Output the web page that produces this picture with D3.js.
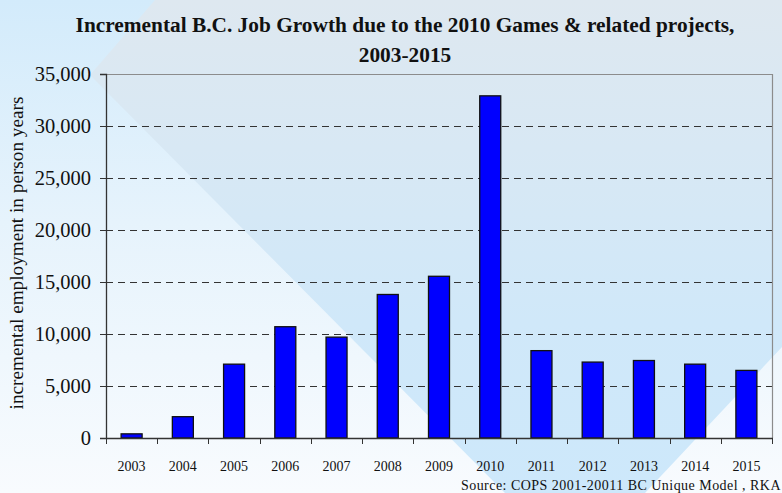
<!DOCTYPE html>
<html>
<head>
<meta charset="utf-8">
<script src="https://cdn.jsdelivr.net/npm/d3@7"></script>
<style>
  html, body { margin: 0; padding: 0; background: #ffffff; }
  svg { display: block; }
  text { font-family: "Liberation Serif", "DejaVu Serif", serif; fill: #111; }
</style>
</head>
<body>
<svg id="chart" width="782" height="493"></svg>
<script>
// Incremental job growth by year (person years)
const years = ["2003","2004","2005","2006","2007","2008","2009","2010","2011","2012","2013","2014","2015"];
const jobs  = [400, 2050, 7100, 10700, 9700, 13800, 15550, 32900, 8400, 7300, 7450, 7100, 6500];
const yTicks = [0, 5000, 10000, 15000, 20000, 25000, 30000, 35000];
const titleLines = ["Incremental B.C. Job Growth due to the 2010 Games & related projects,", "2003-2015"];
const yTitle = "incremental employment in person years";
const sourceNote = "Source: COPS 2001-20011 BC Unique Model , RKA";

const W = 782, H = 493;
const m = { left: 106, right: 772, top: 74, bottom: 438 };

const svg = d3.select("#chart");
const defs = svg.append("defs");

// Backdrop gradients
const gBase = defs.append("linearGradient").attr("id", "bgBase")
  .attr("x1", 0).attr("y1", 0).attr("x2", 0).attr("y2", 1);
gBase.append("stop").attr("offset", "0%").attr("stop-color", "#d3ebfb");
gBase.append("stop").attr("offset", "45%").attr("stop-color", "#e6f3fc");
gBase.append("stop").attr("offset", "100%").attr("stop-color", "#f8fbfe");

const gBand = defs.append("linearGradient").attr("id", "bgBand")
  .attr("gradientUnits", "userSpaceOnUse")
  .attr("x1", 0).attr("y1", 0).attr("x2", 0).attr("y2", H);
gBand.append("stop").attr("offset", "0%").attr("stop-color", "#dee8f0");
gBand.append("stop").attr("offset", "30%").attr("stop-color", "#d8e8f4");
gBand.append("stop").attr("offset", "65%").attr("stop-color", "#d0e8f9");
gBand.append("stop").attr("offset", "100%").attr("stop-color", "#cde8fb");

svg.append("rect").attr("width", W).attr("height", H).attr("fill", "url(#bgBase)");
svg.append("path")
  .attr("d", d3.line()([[155, 0], [W, 0], [W, 347], [645, H], [505, H], [90, 75]]) + "Z")
  .attr("fill", "url(#bgBand)");

// Scales
const x = d3.scaleBand().domain(years).range([m.left, m.right])
  .paddingInner(0.59).paddingOuter(0.295);
const y = d3.scaleLinear().domain([0, 35000]).range([m.bottom, m.top]);

// Dashed gridlines
svg.append("g").selectAll("line")
  .data(yTicks.filter(d => d > 0 && d < 35000))
  .join("line")
  .attr("x1", m.left).attr("x2", m.right)
  .attr("y1", d => Math.round(y(d)) + 0.5).attr("y2", d => Math.round(y(d)) + 0.5)
  .attr("stroke", "#333").attr("stroke-width", 1)
  .attr("stroke-dasharray", "7,5");

// Plot frame (top and right)
svg.append("path")
  .attr("d", `M${m.left},${m.top + 0.5}H${m.right + 0.5}V${m.bottom}`)
  .attr("fill", "none").attr("stroke", "#8c8c8c").attr("stroke-width", 1.2);

// Bars
svg.append("g").selectAll("rect")
  .data(years.map((yr, i) => ({ yr, v: jobs[i] })))
  .join("rect")
  .attr("x", d => x(d.yr))
  .attr("width", x.bandwidth())
  .attr("y", d => y(d.v))
  .attr("height", d => y(0) - y(d.v))
  .attr("fill", "#0000ff")
  .attr("stroke", "#111")
  .attr("stroke-width", 1.3);

// Y axis
const yAxis = d3.axisLeft(y).tickValues(yTicks).tickSize(6).tickPadding(9)
  .tickFormat(d3.format(","));
const gy = svg.append("g").attr("transform", `translate(${m.left},0)`).call(yAxis)
  .attr("font-family", null).attr("font-size", null);
gy.select(".domain").attr("stroke", "#333").attr("stroke-width", 1.3);
gy.selectAll(".tick line").attr("stroke", "#333");
gy.selectAll(".tick text")
  .attr("font-family", "Liberation Serif, serif")
  .style("font-size", "20.5px").attr("fill", "#111");

// X axis: ticks at category boundaries
const step = x.step();
const gx = svg.append("g");
gx.append("line")
  .attr("x1", m.left).attr("x2", m.right + 1)
  .attr("y1", m.bottom + 0.5).attr("y2", m.bottom + 0.5)
  .attr("stroke", "#333").attr("stroke-width", 1.3);
gx.selectAll("line.tk")
  .data(d3.range(years.length + 1))
  .join("line").attr("class", "tk")
  .attr("x1", i => Math.round(m.left + i * step) + 0.5)
  .attr("x2", i => Math.round(m.left + i * step) + 0.5)
  .attr("y1", m.bottom).attr("y2", m.bottom + 6)
  .attr("stroke", "#333").attr("stroke-width", 1);
gx.selectAll("text")
  .data(years)
  .join("text")
  .attr("x", d => x(d) + x.bandwidth() / 2)
  .attr("y", 471)
  .attr("text-anchor", "middle")
  .style("font-size", "14px")
  .text(d => d);

// Title
const title = svg.append("g");
title.selectAll("text")
  .data(titleLines)
  .join("text")
  .attr("x", 405)
  .attr("y", (d, i) => i === 0 ? 32 : 62)
  .attr("text-anchor", "middle")
  .style("font-size", "19.5px")
  .style("font-weight", "bold")
  .text(d => d);

// Fit title line 1 to its span
const t1 = title.select("text").node();
const w1 = t1.getComputedTextLength();
const fs1 = 19.5 * 659 / w1;
title.selectAll("text").style("font-size", fs1.toFixed(2) + "px");

// Y axis title
const yt = svg.append("text")
  .attr("transform", "translate(23,253) rotate(-90)")
  .attr("text-anchor", "middle")
  .style("font-size", "16px")
  .text(yTitle);
const wy = yt.node().getComputedTextLength();
yt.style("font-size", (16 * 313 / wy).toFixed(2) + "px");

// Source note
const src = svg.append("text")
  .attr("x", 781).attr("y", 490)
  .attr("text-anchor", "end")
  .style("font-size", "14px")
  .text(sourceNote);
const ws = src.node().getComputedTextLength();
const ls = (320 - ws) / sourceNote.length;
src.style("letter-spacing", ls.toFixed(2) + "px");
</script>
</body>
</html>
